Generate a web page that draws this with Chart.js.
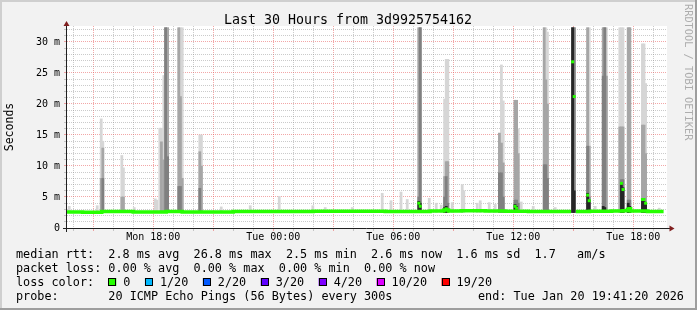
<!DOCTYPE html>
<html>
<head>
<meta charset="utf-8">
<script src="https://cdn.jsdelivr.net/npm/chart.js@4/dist/chart.umd.min.js"></script>
<style>
  html, body { margin: 0; padding: 0; background: #f2f2f2; }
  canvas { display: block; }
</style>
</head>
<body>
<canvas id="smoke" width="697" height="310"></canvas>
<script>
'use strict';

// time axis in hours counted from Mon 00:00
const rangeStart = 13 + 41 / 60 + 20 / 3600;   // Mon 13:41:20
const rangeEnd = rangeStart + 30;                // Tue 19:41:20
const xLabelHours = [18, 24, 30, 36, 42];
const xLabels = ['Mon 18:00', 'Tue 00:00', 'Tue 06:00', 'Tue 12:00', 'Tue 18:00'];
const yLabelValues = [0, 5, 10, 15, 20, 25, 30];
const yMax = 32.58;

// smoke: 5 minute samples that rise above the baseline (ms)
const smokeFloor = 2.5;
const sampleHours = [
  13.80, 15.20, 15.40, 15.48, 16.43, 16.51, 17.05, 18.10, 18.18, 18.33,
  18.41, 18.53, 18.62, 18.72, 19.28, 19.36, 19.45, 20.33, 20.41, 21.40,
  22.85, 24.30, 25.98, 26.60, 27.95, 29.45, 29.89, 30.39, 30.70, 31.28,
  31.35, 31.80, 32.15, 32.40, 32.57, 32.65, 32.73, 32.95, 33.45, 33.53,
  34.20, 34.35, 34.80, 35.10, 35.31, 35.41, 35.50, 36.09, 36.17, 36.25,
  36.40, 37.00, 37.55, 37.63, 37.71, 38.10, 38.97, 39.05, 39.72, 39.80,
  40.10, 40.50, 40.58, 40.66, 41.33, 41.41, 41.49, 41.75, 41.83, 42.46,
  42.54, 42.62, 43.30
];
const smokeMax = [
  3.5, 3.6, 17.6, 14.0, 11.7, 9.7, 3.3, 4.7, 4.5, 16.1,
  16.1, 24.6, 32.3, 32.3, 32.3, 32.3, 32.3, 15.0, 15.0, 3.4,
  3.6, 5.1, 3.6, 3.3, 3.3, 5.6, 4.4, 5.8, 4.6, 32.3,
  32.3, 4.8, 4.0, 3.7, 20.8, 27.2, 27.2, 4.1, 7.0, 6.0,
  4.0, 4.4, 4.1, 3.8, 15.3, 26.3, 20.5, 20.6, 20.6, 16.0,
  4.2, 3.5, 32.3, 32.3, 31.6, 3.3, 32.3, 32.3, 32.3, 32.3,
  3.5, 32.3, 32.3, 32.3, 32.3, 32.3, 32.3, 32.3, 32.3, 29.7,
  29.7, 23.3, 3.2
];
const smokeMid = [
  null, null, 8.0, 12.9, 5.0, 5.0, null, null, null, null,
  13.9, 11.0, 32.3, 32.3, 32.3, 21.2, 8.0, 12.3, 10.0, null,
  null, null, null, null, null, null, null, null, null, 32.3,
  32.3, null, null, null, 8.3, 10.7, 10.7, null, null, null,
  null, null, null, null, 15.3, 13.7, 10.5, 20.6, 20.6, 12.0,
  null, null, 32.3, 23.9, 20.0, null, 32.3, 32.3, 32.3, 13.2,
  null, 32.3, 32.3, 24.5, 16.3, 16.3, 16.3, 32.3, 32.3, 16.6,
  16.6, 12.0, null
];
const smokeDark = [
  null, null, null, 8.0, null, null, null, null, null, null,
  null, null, 32.3, 11.5, 6.7, 6.7, null, 6.4, null, null,
  null, null, null, null, null, null, null, null, null, 5.0,
  32.3, null, null, null, 5.0, 8.3, 4.0, null, null, null,
  null, null, null, null, 8.9, 8.9, 5.0, 4.5, 4.5, 4.0,
  null, null, 10.2, 10.2, 8.0, null, 32.3, 32.3, 13.2, 5.0,
  null, 24.5, 32.3, null, null, 7.8, 7.8, 4.5, 4.5, 4.5,
  4.5, 4.0, null
];
const smokeCore = [
  null, null, null, null, null, null, null, null, null, null,
  null, null, null, null, null, null, null, null, null, null,
  null, null, null, null, null, null, null, null, null, 4.3,
  4.0, null, null, null, 3.3, 3.5, null, null, null, null,
  null, null, null, null, null, null, null, 3.8, 3.5, null,
  null, null, null, null, null, null, 32.3, 6.0, 5.6, 4.5,
  null, 3.5, 3.3, null, null, 7.2, 6.5, 4.0, 3.5, 4.5,
  4.3, 3.8, null
];

// median rtt (ms); samples well above the baseline are shown as marks
const medianHours = [
  13.69, 15.25, 15.60, 18.40, 18.90, 20.00, 24.00, 28.00, 31.20, 32.49,
  32.57, 32.73, 32.81, 34.00, 35.20, 36.01, 37.50, 38.89, 38.97, 39.05,
  39.13, 40.50, 41.33, 41.67, 41.75, 41.83, 41.91, 43.52
];
const medianRtt = [
  2.6, 2.55, 2.65, 2.6, 2.65, 2.6, 2.65, 2.7, 2.65, 2.75,
  2.9, 2.9, 2.75, 2.8, 2.75, 2.7, 2.65, 2.65, null, null,
  2.65, 2.7, 2.75, 2.8, 3.0, 3.1, 2.75, 2.65
];
const highMedianHours = [
  31.28, 31.35, 32.65, 36.09, 36.17, 38.97, 39.05, 39.72, 39.80, 41.41,
  41.49, 42.46, 42.54, 42.62
];
const highMedianRtt = [
  4.0, 3.5, 3.1, 3.5, 3.2, 26.8, 21.2, 5.3, 4.4, 7.2,
  6.2, 4.6, 4.6, 4.0
];

// legend texts
const titleText = 'Last 30 Hours from 3d9925754162';
const statLines = [
  'median rtt:  2.8 ms avg  26.8 ms max  2.5 ms min  2.6 ms now  1.6 ms sd  1.7   am/s',
  'packet loss: 0.00 % avg  0.00 % max  0.00 % min  0.00 % now'
];
const lossLabels = ['0', '1/20', '2/20', '3/20', '4/20', '10/20', '19/20'];
const lossColors = ['#26ff00', '#00b8ff', '#0059ff', '#5e00ff', '#7e00ff', '#dd00ff', '#ff0000'];
const probeText = 'probe:       20 ICMP Echo Pings (56 Bytes) every 300s';
const endText = 'end: Tue Jan 20 19:41:20 2026';

const MONO = '"DejaVu Sans Mono", monospace';
const gridGray = 'rgba(140,140,140,0.45)';
const gridRed = 'rgba(230,80,80,0.5)';

function smokeLayer(tops) {
  const out = [];
  sampleHours.forEach((h, i) => {
    if (tops[i] != null) out.push({ x: h, y: [smokeFloor, tops[i]] });
  });
  return out;
}

function barSet(label, tops, color, order) {
  return {
    type: 'bar',
    label: label,
    data: smokeLayer(tops),
    backgroundColor: color,
    borderWidth: 0,
    barThickness: 2.1,
    grouped: false,
    order: order
  };
}

const frame = {
  id: 'frame',
  beforeDraw(chart) {
    const { ctx, chartArea: a, width, height } = chart;
    ctx.save();
    ctx.fillStyle = '#f2f2f2';
    ctx.fillRect(0, 0, width, height);
    ctx.fillStyle = '#cfcfcf';
    ctx.fillRect(0, 0, width, 2);
    ctx.fillRect(0, 0, 2, height);
    ctx.fillStyle = '#9e9e9e';
    ctx.fillRect(0, height - 2, width, 2);
    ctx.fillRect(width - 2, 0, 2, height);
    ctx.fillStyle = '#ffffff';
    ctx.fillRect(a.left, a.top, a.right - a.left, a.bottom - a.top);
    ctx.restore();
  }
};

const axes = {
  id: 'axes',
  afterDatasetsDraw(chart) {
    const { ctx, chartArea: a } = chart;
    const x0 = a.left - 0.5;
    const y0 = a.bottom + 0.5;
    ctx.save();
    ctx.strokeStyle = '#202020';
    ctx.lineWidth = 1;
    ctx.beginPath();
    ctx.moveTo(x0, a.top - 1);
    ctx.lineTo(x0, a.bottom + 4);
    ctx.moveTo(a.left - 4, y0);
    ctx.lineTo(a.right + 3, y0);
    ctx.stroke();
    ctx.fillStyle = '#801f1f';
    ctx.beginPath();
    ctx.moveTo(x0 - 3, a.top);
    ctx.lineTo(x0 + 3, a.top);
    ctx.lineTo(x0, a.top - 5);
    ctx.closePath();
    ctx.fill();
    ctx.beginPath();
    ctx.moveTo(a.right + 2.5, y0 - 3);
    ctx.lineTo(a.right + 2.5, y0 + 3);
    ctx.lineTo(a.right + 7.5, y0);
    ctx.closePath();
    ctx.fill();
    ctx.restore();
  }
};

const texts = {
  id: 'texts',
  afterDraw(chart) {
    const { ctx, chartArea: a } = chart;
    ctx.save();
    ctx.fillStyle = '#000';

    ctx.font = '13.3px ' + MONO;
    ctx.textAlign = 'center';
    ctx.textBaseline = 'alphabetic';
    ctx.fillText(titleText, 348, 24);

    ctx.save();
    ctx.font = '11.5px ' + MONO;
    ctx.translate(10, (a.top + a.bottom) / 2);
    ctx.rotate(-Math.PI / 2);
    ctx.textBaseline = 'middle';
    ctx.fillText('Seconds', 0, 0);
    ctx.restore();

    ctx.save();
    ctx.font = '10.3px ' + MONO;
    ctx.fillStyle = '#adadad';
    ctx.translate(688, 4);
    ctx.rotate(Math.PI / 2);
    ctx.textAlign = 'left';
    ctx.textBaseline = 'middle';
    ctx.fillText('RRDTOOL / TOBI OETIKER', 0, 0);
    ctx.restore();

    ctx.font = '11.8px ' + MONO;
    ctx.textAlign = 'left';
    ctx.textBaseline = 'alphabetic';
    ctx.fillText(statLines[0], 16, 258);
    ctx.fillText(statLines[1], 16, 272);
    ctx.fillText('loss color:', 16, 286);
    let x = 108.3;
    lossLabels.forEach((lab, i) => {
      ctx.fillStyle = lossColors[i];
      ctx.fillRect(x, 278, 8, 8);
      ctx.strokeStyle = '#000';
      ctx.lineWidth = 1;
      ctx.strokeRect(Math.round(x) + 0.5, 278.5, 7, 7);
      ctx.fillStyle = '#000';
      ctx.fillText(lab, x + 15, 286);
      x += 15 + ctx.measureText(lab).width + 14.5;
    });
    ctx.fillText(probeText, 16, 300);
    ctx.fillText(endText, 478, 300);
    ctx.restore();
  }
};

const hourTicks = [];
for (let h = Math.ceil(rangeStart); h <= rangeEnd; h++) hourTicks.push(h);
const msTicks = [];
for (let v = 0; v <= Math.floor(yMax); v++) msTicks.push(v);

new Chart(document.getElementById('smoke'), {
  type: 'line',
  data: {
    datasets: [
      {
        label: 'median',
        data: medianHours.map((h, i) => ({ x: h, y: medianRtt[i] })),
        borderColor: '#26ff00',
        borderWidth: 3.5,
        borderCapStyle: 'butt',
        stepped: 'middle',
        pointRadius: 0,
        fill: false,
        spanGaps: false,
        order: 0
      },
      {
        label: 'median high',
        data: highMedianHours.map((h, i) => ({ x: h, y: highMedianRtt[i] })),
        showLine: false,
        pointStyle: 'rect',
        pointRadius: 2.1,
        pointBorderWidth: 0,
        pointBackgroundColor: '#26ff00',
        order: 0
      },
      barSet('core', smokeCore, '#262626', 1),
      barSet('dark', smokeDark, '#808080', 2),
      barSet('mid', smokeMid, '#a6a6a6', 3),
      barSet('max', smokeMax, '#d6d6d6', 4)
    ]
  },
  options: {
    responsive: false,
    animation: false,
    devicePixelRatio: 1,
    layout: { padding: { top: 26, right: 30, left: 0, bottom: 0 } },
    plugins: { legend: { display: false }, tooltip: { enabled: false }, title: { display: false } },
    scales: {
      x: {
        type: 'linear',
        min: rangeStart,
        max: rangeEnd,
        offset: false,
        afterBuildTicks: s => { s.ticks = hourTicks.map(v => ({ value: v })); },
        afterFit: s => { s.height = 82; },
        grid: {
          offset: false,
          color: c => (c.tick && c.tick.value % 3 === 0 ? gridRed : gridGray),
          lineWidth: 1,
          tickLength: 3
        },
        border: { display: false, dash: [1, 1] },
        ticks: {
          autoSkip: false,
          maxRotation: 0,
          minRotation: 0,
          padding: 0,
          color: '#000',
          font: { family: 'DejaVu Sans Mono', size: 10 },
          callback: v => {
            const i = xLabelHours.indexOf(v);
            return i >= 0 ? xLabels[i] : '';
          }
        }
      },
      y: {
        type: 'linear',
        min: 0,
        max: yMax,
        afterBuildTicks: s => { s.ticks = msTicks.map(v => ({ value: v })); },
        afterFit: s => { s.width = 67; },
        grid: {
          color: c => (c.tick && c.tick.value % 5 === 0 ? gridRed : gridGray),
          lineWidth: 1,
          tickLength: 3
        },
        border: { display: false, dash: [1, 1] },
        ticks: {
          autoSkip: false,
          padding: 4,
          color: '#000',
          font: { family: 'DejaVu Sans Mono', size: 10 },
          callback: v => (yLabelValues.includes(v) ? (v === 0 ? '0' : v + ' m') : '')
        }
      }
    }
  },
  plugins: [frame, axes, texts]
});
</script>
</body>
</html>
